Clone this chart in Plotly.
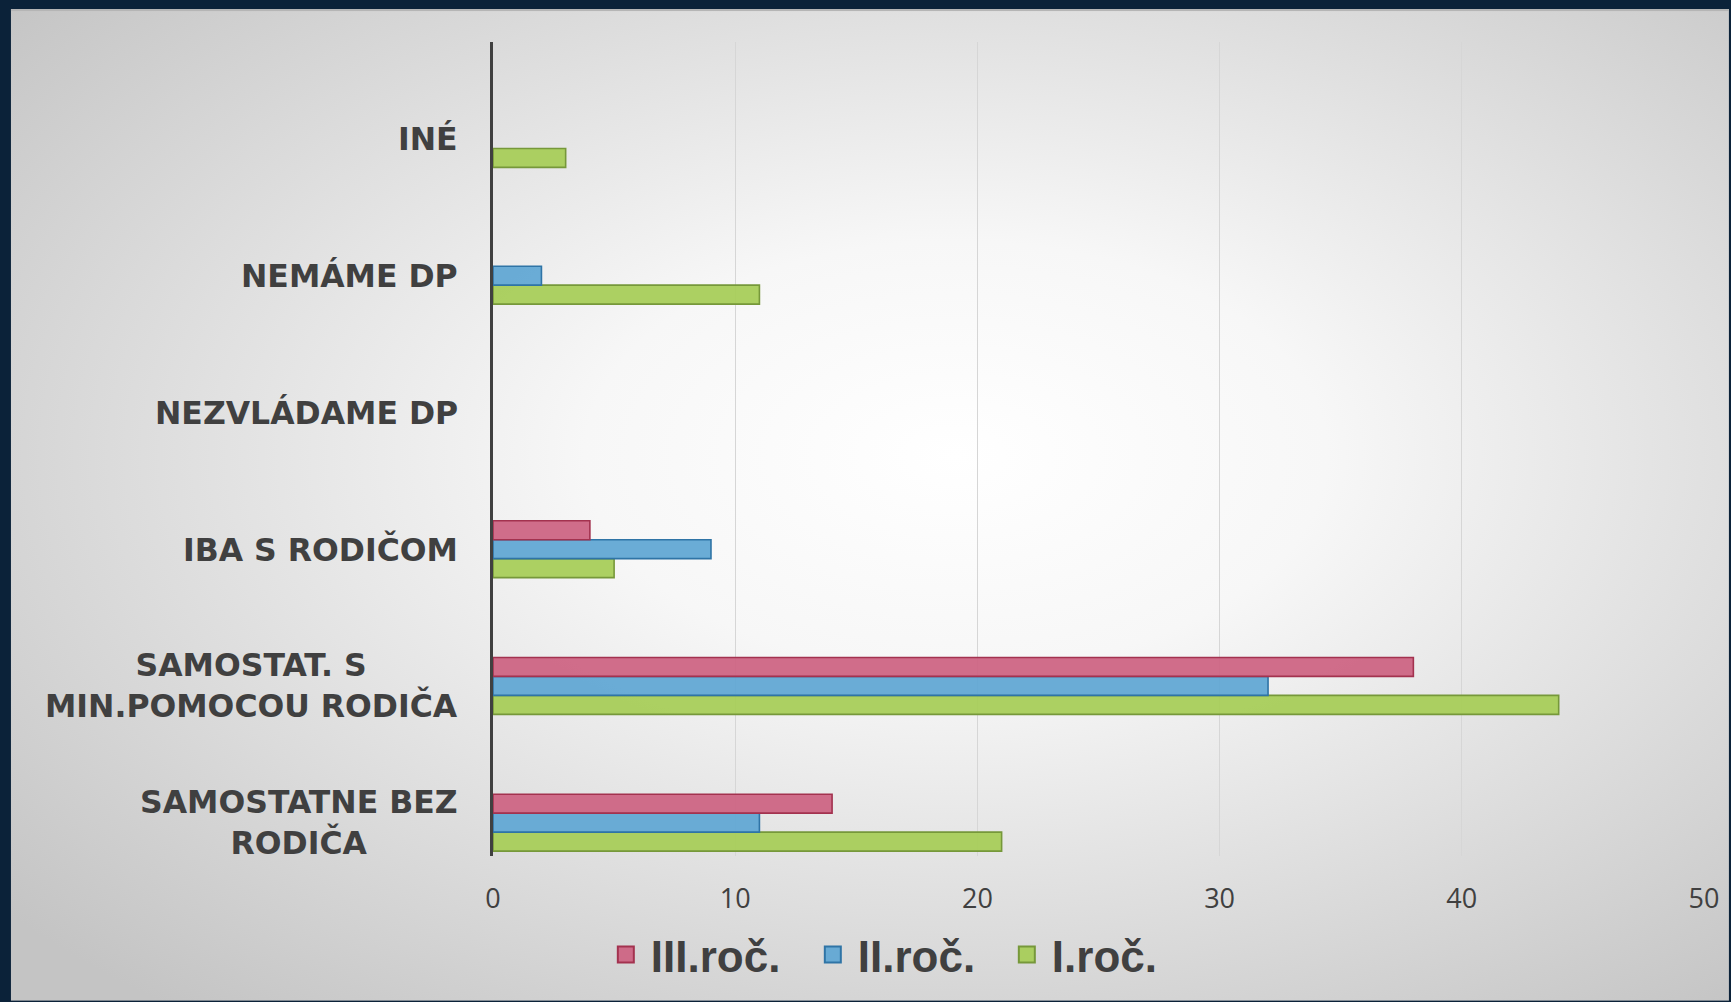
import base64
import plotly.graph_objects as go

# ---- data ----
categories = ["SAMOSTATNE BEZ RODIČA", "SAMOSTAT. S MIN.POMOCOU RODIČA", "IBA S RODIČOM",
              "NEZVLÁDAME DP", "NEMÁME DP", "INÉ"]
category_labels = ["SAMOSTATNE BEZ<br>RODIČA", "SAMOSTAT. S<br>MIN.POMOCOU RODIČA", "IBA S RODIČOM",
                   "NEZVLÁDAME DP", "NEMÁME DP", "INÉ"]
series_names = ["I.roč.", "II.roč.", "III.roč."]
values_I = [21, 44, 5, 0, 11, 3]
values_II = [11, 32, 9, 0, 2, 0]
values_III = [14, 38, 4, 0, 0, 0]
x_ticks = [0, 10, 20, 30, 40, 50]

# ---- style ----
W, H = 1731, 1002
ML, MR, MT, MB = 493, 25, 42, 145
PW, PH = W - ML - MR, H - MT - MB
fills = ["rgba(168,205,90,0.95)", "rgba(98,168,212,0.95)", "rgba(206,101,132,0.95)"]
lines = ["#76983A", "#2F74A6", "#A3324F"]
legend_widths = [124, 139, 152]
TXT = "#404040"

fig = go.Figure()
for name, vals, fc, lc in zip(series_names, [values_I, values_II, values_III], fills, lines):
    fig.add_trace(go.Bar(
        y=categories, x=vals, name=name, orientation="h",
        marker=dict(color=fc, line=dict(color=lc, width=[1.6 if v > 0 else 0 for v in vals])),
        showlegend=False, hoverinfo="x+name",
    ))

# legend entries (larger square swatches), ordered III, II, I
for name, fc, lc, lw in reversed(list(zip(series_names, fills, lines, legend_widths))):
    fig.add_trace(go.Scatter(
        x=[None], y=[None], mode="markers", name=name, legendwidth=lw,
        marker=dict(symbol="square", size=25, color=fc, line=dict(color=lc, width=2)),
    ))

for cat, lab in zip(categories, category_labels):
    fig.add_annotation(
        x=0, xref="paper", y=cat, yref="y", text=lab, showarrow=False,
        xanchor="right", xshift=-33, align="center", yanchor="middle",
        font=dict(family="DejaVu Sans", size=31.5, color=TXT, weight="bold"),
    )

# background panel with radial gradient
svg = f'''<svg xmlns="http://www.w3.org/2000/svg" width="1721" height="993" viewBox="0 0 1721 993">
<defs><radialGradient id="g" cx="0.55" cy="0.45" r="0.72">
<stop offset="0" stop-color="#FFFFFF"/><stop offset="0.3" stop-color="#F7F7F7"/>
<stop offset="1" stop-color="#C4C4C4"/></radialGradient></defs>
<rect x="0" y="0" width="1721" height="993" fill="url(#g)"/>
<rect x="0" y="0" width="1721" height="2" fill="#B5B5B5"/>
</svg>'''
src = "data:image/svg+xml;base64," + base64.b64encode(svg.encode()).decode()
fig.add_layout_image(dict(
    source=src, xref="paper", yref="paper",
    x=(10 - ML) / PW, y=1 + (MT - 9) / PH,
    sizex=(W - 10) / PW, sizey=(H - 9) / PH,
    xanchor="left", yanchor="top", sizing="stretch", layer="below",
))

fig.update_layout(
    width=W, height=H,
    margin=dict(l=ML, r=MR, t=MT, b=MB, pad=0),
    paper_bgcolor="#0B2239", plot_bgcolor="rgba(0,0,0,0)",
    barmode="group", bargap=0.584, bargroupgap=0,
    legend=dict(
        orientation="h", x=(601 - ML) / PW, xanchor="left",
        y=1 - (956 - MT) / PH, yanchor="middle",
        font=dict(family="Liberation Sans", size=44, color=TXT, weight="bold"),
        itemwidth=40, bgcolor="rgba(0,0,0,0)", traceorder="normal", borderwidth=0,
    ),
    xaxis=dict(
        range=[0, 50], tickvals=x_ticks, showgrid=True, gridcolor="#D6D6D6", gridwidth=1.3,
        zeroline=False, showline=False, ticks="", ticklabelstandoff=24,
        tickfont=dict(family="Open Sans", size=27, color=TXT), fixedrange=True,
    ),
    yaxis=dict(
        categoryorder="array", categoryarray=categories, range=[-0.244, 5.709],
        showticklabels=False, showgrid=False, zeroline=False,
        showline=True, linecolor="#404040", linewidth=3, ticks="", fixedrange=True,
    ),
)

fig.write_html("out.html", config={"displayModeBar": False},
               post_script="document.body.style.margin='0';document.body.style.overflow='hidden';")
